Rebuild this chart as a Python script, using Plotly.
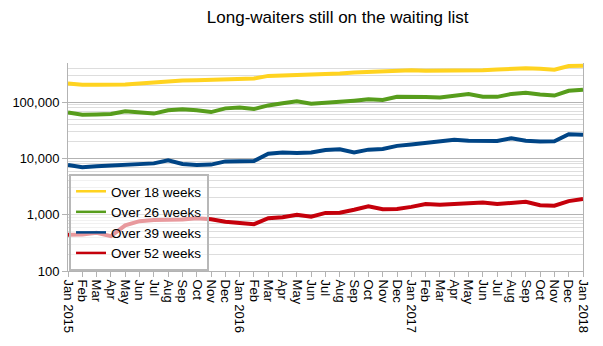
import plotly.graph_objects as go

months = ["Jan 2015", "Feb", "Mar", "Apr", "May", "Jun", "Jul", "Aug", "Sep", "Oct", "Nov", "Dec",
          "Jan 2016", "Feb", "Mar", "Apr", "May", "Jun", "Jul", "Aug", "Sep", "Oct", "Nov", "Dec",
          "Jan 2017", "Feb", "Mar", "Apr", "May", "Jun", "Jul", "Aug", "Sep", "Oct", "Nov", "Dec",
          "Jan 2018"]

over_18 = [215000, 205000, 205000, 203000, 207000, 215000, 225000, 238000, 245000, 248000, 252000, 255000,
           265000, 265000, 295000, 300000, 300000, 305000, 315000, 325000, 340000, 350000, 355000, 360000,
           370000, 365000, 365000, 375000, 368000, 372000, 385000, 398000, 402000, 395000, 380000, 440000,
           445000]
over_26 = [66000, 60000, 61000, 62000, 69000, 65000, 63000, 72000, 75000, 72000, 67000, 78000,
           81000, 76000, 88000, 96000, 104000, 94000, 97000, 104000, 107000, 113000, 110000, 125000,
           127000, 124000, 122000, 132000, 140000, 126000, 125000, 141000, 148000, 138000, 132000, 160000,
           168000]
over_39 = [7700, 7000, 7300, 7500, 7800, 7700, 8200, 9300, 8000, 7700, 7800, 8900,
           9100, 9000, 12200, 12800, 12600, 12800, 14200, 14600, 12800, 14400, 14800, 16800,
           17800, 19000, 19500, 21500, 20800, 20300, 20500, 23000, 20800, 20000, 20200, 27000,
           26500]
over_52 = [440, 445, 480, 417, 650, 770, 810, 815, 820, 870, 830, 750,
           720, 680, 870, 900, 1000, 920, 1080, 1090, 1230, 1420, 1250, 1270,
           1380, 1550, 1500, 1530, 1600, 1650, 1550, 1650, 1700, 1480, 1450, 1750,
           1900]

series_names = ["Over 18 weeks", "Over 26 weeks", "Over 39 weeks", "Over 52 weeks"]
series_values = [over_18, over_26, over_39, over_52]
colors = ["#ffd320", "#579d1c", "#004586", "#c5000b"]

y_ticks = [100, 1000, 10000, 100000]
y_ticktext = ["100", "1,000", "10,000", "100,000"]
minor_vals = [m * 10 ** e for e in range(2, 6) for m in range(2, 10)]

x = list(range(len(months)))

fig = go.Figure()
for name, vals, col in zip(series_names, series_values, colors):
    fig.add_trace(go.Scatter(x=x, y=vals, mode="lines", name=name, showlegend=False,
                             line=dict(color=col, width=4)))
# legend keys with thinner lines, as in the reference
for name, col in zip(series_names, colors):
    fig.add_trace(go.Scatter(x=[None], y=[None], mode="lines", name=name,
                             line=dict(color=col, width=2.5)))

fig.update_layout(
    width=603, height=346,
    margin=dict(l=66, r=16, t=63, b=75),
    paper_bgcolor="white", plot_bgcolor="white",
    font=dict(family="Liberation Sans, Arial, sans-serif", size=13, color="#000"),
    title=dict(text="Long-waiters still on the waiting list", x=0.56, xanchor="center",
               y=0.95, yanchor="middle", font=dict(size=17, color="#000")),
    legend=dict(x=0.002, y=0.0, xanchor="left", yanchor="bottom",
                bgcolor="rgba(255,255,255,0.6)", bordercolor="#b8b8b8", borderwidth=2,
                font=dict(size=13.5), tracegroupgap=0, itemwidth=30),
    showlegend=True,
)
fig.update_xaxes(
    range=[0, 36], tickvals=x, ticktext=months, tickangle=90,
    showgrid=False, showline=True, linecolor="#b3b3b3", linewidth=1,
    ticks="outside", ticklen=5, tickcolor="#b3b3b3", zeroline=False,
    tickfont=dict(size=13),
)
fig.update_yaxes(
    type="log", range=[2, 5.699], tickvals=y_ticks, ticktext=y_ticktext,
    showgrid=True, gridcolor="#b3b3b3", gridwidth=1,
    showline=True, linecolor="#b3b3b3", linewidth=1, mirror=True,
    ticks="outside", ticklen=5, tickcolor="#b3b3b3",
    minor=dict(tickvals=minor_vals, showgrid=True, gridcolor="#dddddd", gridwidth=1, ticks=""),
    tickfont=dict(size=13),
)

fig.write_html("out.html")
